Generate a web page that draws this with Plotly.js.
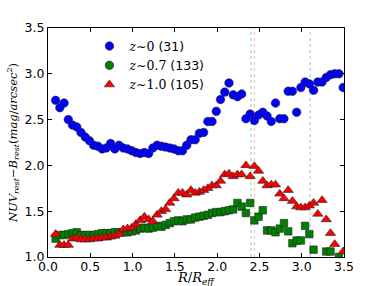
<!DOCTYPE html>
<html>
<head>
<meta charset="utf-8">
<script src="https://cdn.plot.ly/plotly-3.0.1.min.js"></script>
<style>html,body{margin:0;padding:0;background:#fff;}#chart{width:382px;height:286px;}</style>
</head>
<body>
<div id="chart"></div>
<script>
// Radial bins R/R_eff
const R = [0.09,0.14,0.19,0.24,0.29,0.34,0.39,0.44,0.49,0.54,0.59,0.64,0.69,0.74,0.79,0.84,0.89,0.94,0.99,1.04,
           1.09,1.14,1.19,1.24,1.29,1.34,1.39,1.44,1.49,1.54,1.59,1.64,1.69,1.74,1.79,1.84,1.89,1.94,1.99,2.04,
           2.09,2.14,2.19,2.24,2.29,2.34,2.39,2.44,2.49,2.54,2.59,2.64,2.69,2.74,2.79,2.84,2.89,2.94,2.99,3.04,
           3.09,3.14,3.19,3.24,3.29,3.34,3.39,3.44,3.49];
// z~0 (31)
const z0 = [2.71,2.63,2.68,2.50,2.44,2.42,2.36,2.31,2.27,2.22,2.21,2.18,2.19,2.24,2.18,2.22,2.19,2.18,2.16,2.14,
            2.13,2.14,2.13,2.19,2.22,2.21,2.20,2.19,2.18,2.16,2.16,2.22,2.28,2.28,2.35,2.36,2.48,2.48,2.59,2.72,
            2.80,2.90,2.77,2.75,2.78,2.51,2.56,2.49,2.55,2.58,2.54,2.48,2.68,2.51,2.51,2.81,2.81,2.58,2.85,2.91,
            2.89,2.82,2.91,2.91,2.96,2.99,3.00,3.00,2.85];
// z~0.7 (133)
const z07 = [1.20,1.24,1.24,1.25,1.26,1.27,1.24,1.24,1.24,1.24,1.25,1.26,1.26,1.26,1.27,1.27,1.27,1.27,1.28,1.29,
             1.31,1.32,1.31,1.32,1.34,1.33,1.35,1.37,1.39,1.40,1.39,1.41,1.41,1.43,1.44,1.45,1.46,1.48,1.49,1.49,
             1.50,1.51,1.52,1.59,1.55,1.48,1.59,1.40,1.44,1.51,1.29,1.29,1.27,1.31,1.37,1.28,1.15,1.18,1.18,1.34,
             1.25,1.08,null,null,1.06,1.06,null,1.00,null];
// z~1.0 (105)
const z10 = [1.25,1.13,1.13,1.13,1.20,1.21,1.19,1.19,1.19,1.20,1.20,1.21,1.21,1.22,1.23,1.25,1.30,1.31,1.32,1.36,
             1.40,1.44,1.41,1.39,1.46,1.50,1.52,1.59,1.64,1.70,1.70,1.68,1.73,1.70,1.71,1.73,1.75,1.78,1.78,1.83,
             1.90,1.91,1.88,1.90,1.90,2.00,1.88,1.99,1.94,1.83,1.78,1.79,1.79,1.69,1.64,1.73,1.61,1.55,1.54,1.54,
             1.56,1.59,1.47,1.62,1.41,1.26,1.14,null,1.06];
const labels = ['<span style="font-family:\'DejaVu Serif\'"><i>z</i>∼0</span> (31)',
                '<span style="font-family:\'DejaVu Serif\'"><i>z</i>∼0.7</span> (133)',
                '<span style="font-family:\'DejaVu Serif\'"><i>z</i>∼1.0</span> (105)'];
const xTitle = '<i>R</i>/<i>R</i><sub><i>eff</i></sub>';
const yTitle = '<i>NUV</i><sub><i>rest</i></sub>−<i>B</i><sub><i>rest</i></sub>(<i>mag</i>/<i>arcsec</i><sup>2</sup>)';
const vlineX = [2.40, 2.44, 3.10];
const vlineColors = ['#7cc47c', '#f5a0a0', '#a0a0f5'];

const edge = {color:'#222', width:0.6};
const traces = [
  {x:R, y:z0, mode:'markers', type:'scatter', showlegend:false,
   marker:{symbol:'circle', size:8.5, color:'#0000ff', line:edge}},
  {x:R, y:z07, mode:'markers', type:'scatter', showlegend:false,
   marker:{symbol:'square', size:7.5, color:'#008000', line:edge}},
  {x:R, y:z10, mode:'markers', type:'scatter', showlegend:false,
   marker:{symbol:'triangle-up', size:9, color:'#ff0000', line:edge}},
  {x:[null], y:[null], mode:'markers', type:'scatter', name:labels[0],
   marker:{symbol:'circle', size:8.5, color:'#0000ff', line:edge}},
  {x:[null], y:[null], mode:'markers', type:'scatter', name:labels[1],
   marker:{symbol:'circle', size:8.5, color:'#008000', line:edge}},
  {x:[null], y:[null], mode:'markers', type:'scatter', name:labels[2],
   marker:{symbol:'triangle-up', size:9, color:'#ff0000', line:edge}}
];
const shapes = vlineX.map((v,i)=>({type:'line', xref:'x', yref:'paper', x0:v, x1:v, y0:0, y1:1,
  line:{color:vlineColors[i], width:0.8, dash:'dot'}, layer:'below'}));

const axisCommon = {showgrid:false, zeroline:false, showline:true, linecolor:'#000', linewidth:1,
  mirror:'allticks', ticks:'inside', ticklen:4, tickcolor:'#000', tickwidth:1,
  tickfont:{family:'DejaVu Sans', size:12.5, color:'#000'}};
const layout = {
  width:382, height:286,
  margin:{l:48, r:38, t:28, b:29},
  paper_bgcolor:'#fff', plot_bgcolor:'#fff',
  showlegend:true,
  legend:{x:0.14, y:0.985, xanchor:'left', yanchor:'top', bgcolor:'rgba(0,0,0,0)',
    font:{family:'DejaVu Sans', size:12.5, color:'#000'}, itemwidth:30, tracegroupgap:0},
  xaxis:Object.assign({}, axisCommon, {range:[0,3.5], dtick:0.5, tickformat:'.1f', ticklabelstandoff:-2}),
  yaxis:Object.assign({}, axisCommon, {range:[1,3.5], dtick:0.5, tickformat:'.1f',
    title:{text:yTitle, font:{family:'DejaVu Serif', size:11.5, color:'#000'}, standoff:4}}),
  annotations:[{text:xTitle, xref:'paper', yref:'paper', x:0.5, y:-0.095, xanchor:'center', yanchor:'middle',
    showarrow:false, font:{family:'DejaVu Serif', size:13, color:'#000'}}],
  shapes:shapes
};
Plotly.newPlot('chart', traces, layout, {displayModeBar:false, staticPlot:true});
</script>
</body>
</html>
